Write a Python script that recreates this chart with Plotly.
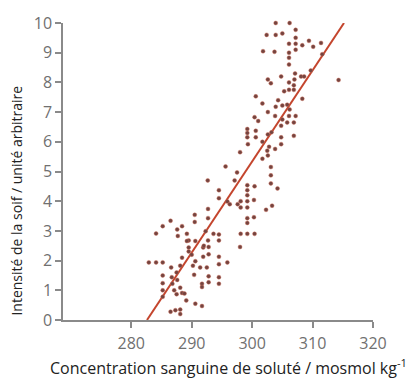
import plotly.graph_objects as go

# Blood solute concentration (mosmol/kg) and thirst intensity (arbitrary units)
conc = [
    303.9, 306.2, 302.4, 303.9, 305.0, 307.2, 307.2, 306.1, 307.2, 308.3, 309.4, 311.4,
    301.8, 303.7, 306.1, 307.2, 310.1, 311.6, 306.1, 306.1, 309.7, 314.3, 302.6, 303.1,
    304.8, 306.1, 307.1, 307.0, 308.1, 306.9, 306.1, 308.3, 306.9, 300.6, 301.7, 302.6,
    303.9, 305.0, 305.8, 306.2, 305.0, 303.8, 306.1, 307.2, 305.8, 306.9, 304.8, 300.4,
    303.2, 306.9, 302.6, 299.2, 299.2, 300.6, 299.2, 300.6, 299.3, 304.8, 303.8, 304.8,
    302.8, 301.7, 302.5, 301.7, 302.6, 298.0, 303.1, 303.1, 303.1, 304.2, 302.3, 303.3,
    295.6, 297.5, 297.1, 292.65, 294.5, 294.5, 295.9, 299.2, 299.2, 300.4, 299.2, 298.1,
    299.2, 300.3, 298.1, 299.2, 300.3, 299.2, 299.2, 299.2, 300.4, 298.1, 298.0, 290.5,
    290.5, 292.7, 292.7, 292.3, 294.5, 294.5, 292.7, 289.2, 288.4, 287.6, 287.7, 286.5,
    285.2, 284.1, 289.5, 289.5, 290.6, 291.9, 291.9, 292.8, 292.8, 289.5, 288.4, 288.1,
    290.2, 290.6, 291.4, 291.7, 291.7, 292.5, 292.8, 292.8, 290.4, 290.6, 291.7, 294.5,
    294.5, 294.5, 294.5, 295.9, 282.9, 284.1, 285.2, 285.2, 285.2, 285.2, 285.2, 286.6,
    286.7, 286.8, 287.1, 287.5, 287.6, 287.5, 288.1, 288.4, 288.8, 289.1, 286.5, 287.3,
    288.1, 288.1, 289.2, 296.3, 292.0, 297.6, 301.0, 304.3, 305.3, 308.6, 293.6, 290.0,
]
thirst = [
    10.0, 10.0, 9.6, 9.6, 9.65, 9.77, 9.5, 9.3, 9.3, 9.25, 9.4, 9.33,
    9.05, 9.03, 9.0, 9.1, 9.2, 8.95, 8.83, 8.6, 8.4, 8.08, 8.1, 7.97,
    8.2, 8.0, 8.3, 8.1, 8.2, 7.9, 7.75, 7.45, 7.75, 7.53, 7.29, 7.0,
    7.18, 7.22, 7.25, 7.09, 6.75, 6.87, 6.87, 6.87, 6.65, 6.65, 6.54, 6.83,
    6.32, 6.2, 6.25, 6.43, 6.3, 6.37, 6.15, 6.15, 5.92, 6.15, 5.76, 5.92,
    5.83, 6.0, 5.7, 5.43, 5.54, 5.65, 5.15, 4.87, 4.6, 4.43, 3.71, 3.85,
    5.17, 4.97, 4.7, 4.7, 4.37, 4.1, 3.99, 4.54, 4.37, 4.5, 4.2, 4.0,
    4.0, 4.04, 3.79, 3.79, 3.46, 3.43, 3.27, 2.9, 2.9, 2.9, 2.46, 3.54,
    3.3, 3.74, 3.43, 2.99, 2.88, 2.68, 2.68, 2.9, 3.16, 3.05, 2.83, 3.34,
    3.16, 2.91, 2.68, 2.44, 2.66, 2.44, 2.13, 2.46, 2.21, 2.31, 2.1, 1.83,
    1.83, 1.98, 1.77, 1.22, 1.11, 1.77, 1.47, 1.27, 1.52, 0.55, 0.47, 1.44,
    1.22, 1.88, 2.13, 1.94, 1.94, 1.94, 1.94, 1.5, 1.24, 1.0, 0.78, 1.77,
    1.44, 1.22, 1.0, 1.6, 1.35, 0.87, 1.09, 0.91, 0.89, 0.66, 0.28, 0.33,
    0.35, 0.2, 2.66, 3.9, 2.5, 3.9, 6.7, 7.4, 7.7, 8.2, 2.9, 2.2,
]

# Regression line end points
fit_x = [282.6, 315.2]
fit_y = [0, 10]

x_ticks = [280, 290, 300, 310, 320]
y_ticks = list(range(0, 11))

x_title = "Concentration sanguine de soluté / mosmol kg<sup>-1</sup>"
y_title = "Intensité de la soif / unité arbitraire"

fig = go.Figure()
fig.add_trace(go.Scatter(
    x=fit_x, y=fit_y, mode="lines",
    line=dict(color="#c4452d", width=2),
    hoverinfo="skip", cliponaxis=False,
))
fig.add_trace(go.Scatter(
    x=conc, y=thirst, mode="markers",
    marker=dict(color="#744440", size=4,
                line=dict(color="rgba(210,110,90,0.6)", width=0.7)),
    cliponaxis=False,
))

axis_common = dict(
    showgrid=False, zeroline=False, showline=True,
    linecolor="#8a8a8a", linewidth=1.5,
    ticks="outside", tickcolor="#8a8a8a", ticklen=6, tickwidth=1.5,
    tickfont=dict(family="Open Sans", size=16, color="#707070"),
)

fig.update_layout(
    width=413, height=381,
    margin=dict(l=63, r=40, t=19, b=61),
    paper_bgcolor="white", plot_bgcolor="white",
    showlegend=False,
    xaxis=dict(range=[268.7, 320], tickvals=x_ticks, ticklabelstandoff=2, **axis_common),
    yaxis=dict(range=[0, 10], tickvals=y_ticks, **axis_common),
    annotations=[
        dict(text=x_title, xref="paper", yref="paper", x=(228 - 63) / 310,
             y=-(368 - 320) / 301, xanchor="center", yanchor="middle",
             showarrow=False, font=dict(family="Open Sans", size=16, color="#222222")),
        dict(text=y_title, xref="paper", yref="paper", x=-(63 - 17) / 310,
             y=(320 - 199) / 301, xanchor="center", yanchor="middle", textangle=-90,
             showarrow=False, font=dict(family="Open Sans", size=14, color="#222222")),
    ],
)

fig.write_html("out.html")
